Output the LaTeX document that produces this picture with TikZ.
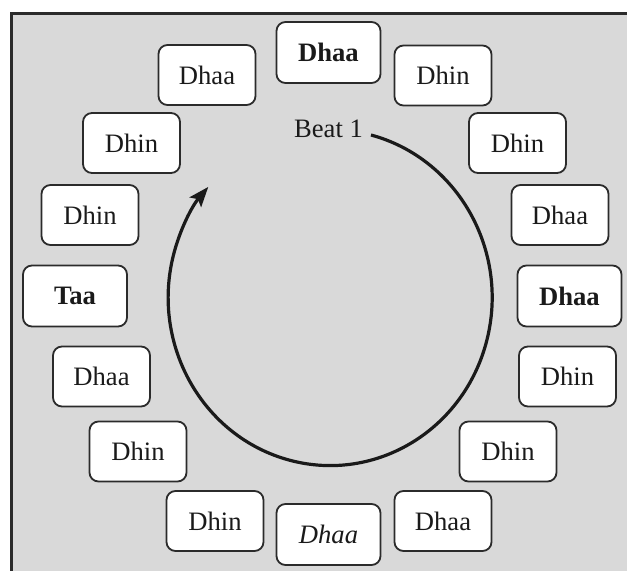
\documentclass[tikz,border=0pt]{standalone}
\usepackage{fontspec}
\setmainfont{Liberation Serif}
\usetikzlibrary{arrows.meta}
\definecolor{bg}{HTML}{D9D9D9}
\definecolor{edge}{HTML}{2B2B2B}
\definecolor{ink}{HTML}{1A1A1A}
\begin{document}
\begin{tikzpicture}[x=0.5pt,y=-0.5pt,
  font=\fontsize{13.3}{16}\selectfont,
  bolbox/.style={draw=edge, line width=0.9pt, fill=white, rounded corners=4.5pt,
    minimum width=48.5pt, minimum height=30pt, inner sep=0pt, text=ink},
  emphbox/.style={bolbox, minimum width=52pt, minimum height=30.5pt},
  cycle/.style={draw=ink, line width=1.6pt, -{Stealth[length=10pt,width=7.5pt,inset=2pt]}}]
\useasboundingbox (0,0) rectangle (627,571);
\fill[bg] (11.3,13.3) rectangle (627,571);
\draw[edge, line width=1.25pt] (11.3,571) -- (11.3,13.3) -- (627,13.3);

\node[emphbox, font=\fontsize{13.3}{16}\selectfont\bfseries] (n1) at (328.5,52.5) {Dhaa};
\node[bolbox] (n2) at (443,75.5) {Dhin};
\node[bolbox] (n3) at (517.5,143) {Dhin};
\node[bolbox] (n4) at (560,215) {Dhaa};
\node[emphbox, font=\fontsize{13.3}{16}\selectfont\bfseries] (n5) at (569.5,296) {Dhaa};
\node[bolbox] (n6) at (567.5,376.5) {Dhin};
\node[bolbox] (n7) at (508,451.5) {Dhin};
\node[bolbox] (n8) at (443,521) {Dhaa};
\node[emphbox, font=\fontsize{13.3}{16}\selectfont\itshape] (n9) at (328.5,534.5) {Dhaa};
\node[bolbox] (n10) at (215,521) {Dhin};
\node[bolbox] (n11) at (138,451.5) {Dhin};
\node[bolbox] (n12) at (101.5,376.5) {Dhaa};
\node[emphbox, font=\fontsize{13.3}{16}\selectfont\bfseries] (n13) at (75,296) {Taa};
\node[bolbox] (n14) at (90,215) {Dhin};
\node[bolbox] (n15) at (131.5,143) {Dhin};
\node[bolbox] (n16) at (207,75) {Dhaa};

\node[text=ink, inner sep=0pt] (beat) at (328.5,129) {Beat 1};
\coordinate (arcstart) at (371,135);
\draw[cycle] (arcstart) arc[start angle=75.4, end angle=-221.2, x radius=81pt, y radius=84pt];
\end{tikzpicture}
\end{document}
